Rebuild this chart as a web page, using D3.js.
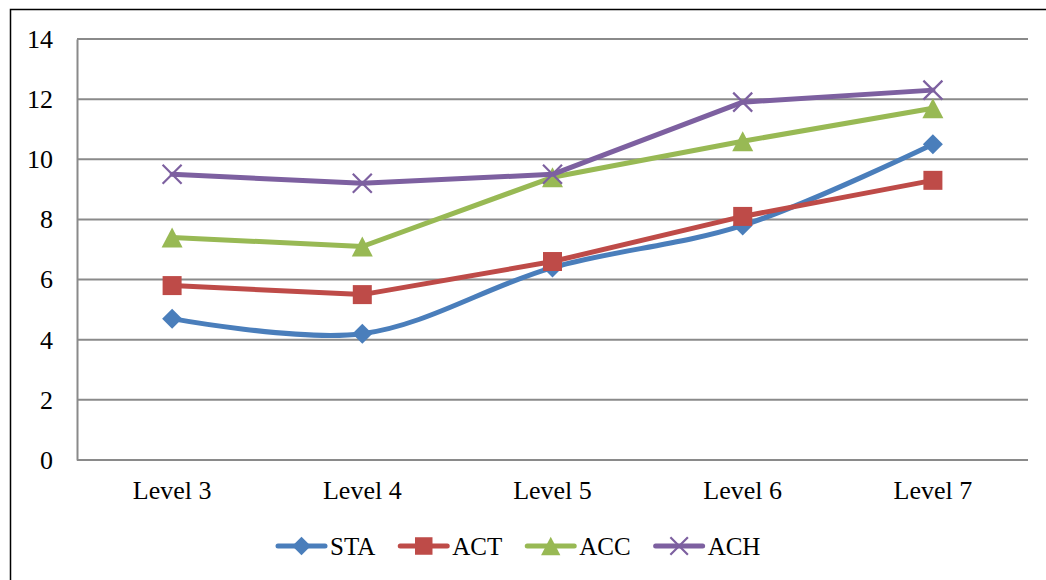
<!DOCTYPE html>
<html>
<head>
<meta charset="utf-8">
<script src="https://cdn.jsdelivr.net/npm/d3@7"></script>
<style>
  html, body { margin: 0; padding: 0; background: #fff; }
  svg { display: block; }
</style>
</head>
<body>
<svg id="chart" width="1046" height="580"></svg>
<script>
// Data
const categories = ["Level 3", "Level 4", "Level 5", "Level 6", "Level 7"];
const seriesNames = ["STA", "ACT", "ACC", "ACH"];
const STA = [4.7, 4.2, 6.4, 7.8, 10.5];
const ACT = [5.8, 5.5, 6.6, 8.1, 9.3];
const ACC = [7.4, 7.1, 9.4, 10.6, 11.7];
const ACH = [9.5, 9.2, 9.5, 11.9, 12.3];
const yTicks = [0, 2, 4, 6, 8, 10, 12, 14];

const seriesValues = { STA, ACT, ACC, ACH };
const colors = { STA: "#4A7EBB", ACT: "#BE4B48", ACC: "#98B954", ACH: "#7D60A0" };
const smoothed = { STA: true, ACT: false, ACC: false, ACH: false };
const FONT = '"Liberation Serif"';

const svg = d3.select("#chart");

function serif(size) {
  return sel => sel.style("font-family", FONT).style("font-size", size).attr("fill", "#000");
}

// Outer frame
svg.append("rect")
  .attr("x", 10.5).attr("y", 9.5)
  .attr("width", 1100).attr("height", 700)
  .attr("fill", "none").attr("stroke", "#000").attr("stroke-width", 1.5);

const plot = { left: 77, right: 1028, top: 39, bottom: 460 };

const x = d3.scaleBand().domain(categories).range([plot.left, plot.right]);
const cx = d => x(d) + x.bandwidth() / 2;
const y = d3.scaleLinear().domain([0, 14]).range([plot.bottom, plot.top]);

// Horizontal gridlines
svg.append("g")
  .selectAll("line")
  .data(yTicks.filter(t => t > 0))
  .join("line")
  .attr("x1", plot.left).attr("x2", plot.right)
  .attr("y1", d => y(d)).attr("y2", d => y(d))
  .attr("stroke", "#8a8a8a").attr("stroke-width", 2);

// Y axis
const yAxis = svg.append("g")
  .attr("transform", `translate(${plot.left},0)`)
  .call(d3.axisLeft(y).tickValues(yTicks).tickSize(0).tickPadding(24).tickFormat(d3.format("d")));
yAxis.select(".domain").attr("stroke", "#8a8a8a").attr("stroke-width", 2);
yAxis.selectAll("text").call(serif("26px"));

// X axis
const xAxis = svg.append("g")
  .attr("transform", `translate(0,${plot.bottom})`)
  .call(d3.axisBottom(x).tickSize(0).tickPadding(21));
xAxis.select(".domain").attr("stroke", "#8a8a8a").attr("stroke-width", 2).attr("d", `M${plot.left},0H${plot.right}`);
xAxis.selectAll("text").call(serif("26px"));

// Marker shapes
const diamondType = { draw(ctx, size) { const r = Math.sqrt(size) / 2; ctx.moveTo(0, -r); ctx.lineTo(r, 0); ctx.lineTo(0, r); ctx.lineTo(-r, 0); ctx.closePath(); } };
const squareType = { draw(ctx, size) { const r = Math.sqrt(size) / 2; ctx.rect(-r, -r, 2 * r, 2 * r); } };
const triangleType = { draw(ctx, size) { const r = Math.sqrt(size) / 2; ctx.moveTo(0, -r); ctx.lineTo(r * 1.05, r); ctx.lineTo(-r * 1.05, r); ctx.closePath(); } };
const crossType = { draw(ctx, size) { const r = Math.sqrt(size) / 2; ctx.moveTo(-r, -r); ctx.lineTo(r, r); ctx.moveTo(r, -r); ctx.lineTo(-r, r); } };

const markerDefs = {
  STA: { type: diamondType, size: 20 * 20, filled: true },
  ACT: { type: squareType, size: 19 * 19, filled: true },
  ACC: { type: triangleType, size: 20 * 20, filled: true },
  ACH: { type: crossType, size: 19 * 19, filled: false }
};

function drawMarker(g, name, scale) {
  const m = markerDefs[name];
  const p = g.append("path").attr("d", d3.symbol(m.type, m.size * scale)());
  if (m.filled) p.attr("fill", colors[name]).attr("stroke", "none");
  else p.attr("fill", "none").attr("stroke", colors[name]).attr("stroke-width", 2.2);
  return p;
}

// Series lines and markers
seriesNames.forEach(name => {
  const vals = seriesValues[name];
  const pts = categories.map((c, i) => [cx(c), y(vals[i])]);
  const line = d3.line().curve(smoothed[name] ? d3.curveCatmullRom.alpha(0.5) : d3.curveLinear);
  svg.append("path")
    .attr("d", line(pts))
    .attr("fill", "none")
    .attr("stroke", colors[name])
    .attr("stroke-width", 5)
    .attr("stroke-linejoin", "round")
    .attr("stroke-linecap", "round");
  const mg = svg.append("g");
  pts.forEach(p => {
    const g = mg.append("g").attr("transform", `translate(${p[0]},${p[1]})`);
    drawMarker(g, name, 1);
  });
});

// Legend
const legend = svg.append("g").attr("transform", "translate(276,546)");
let offset = 0;
seriesNames.forEach(name => {
  const item = legend.append("g").attr("transform", `translate(${offset},0)`);
  item.append("line")
    .attr("x1", 2).attr("x2", 49).attr("y1", 0).attr("y2", 0)
    .attr("stroke", colors[name]).attr("stroke-width", 5).attr("stroke-linecap", "round");
  const mg = item.append("g").attr("transform", "translate(25.5,0)");
  drawMarker(mg, name, 0.85);
  const t = item.append("text")
    .attr("x", 54).attr("y", 0).attr("dy", "0.35em")
    .call(serif("25px"))
    .text(name);
  offset += 54 + t.node().getComputedTextLength() + 23;
});
</script>
</body>
</html>
